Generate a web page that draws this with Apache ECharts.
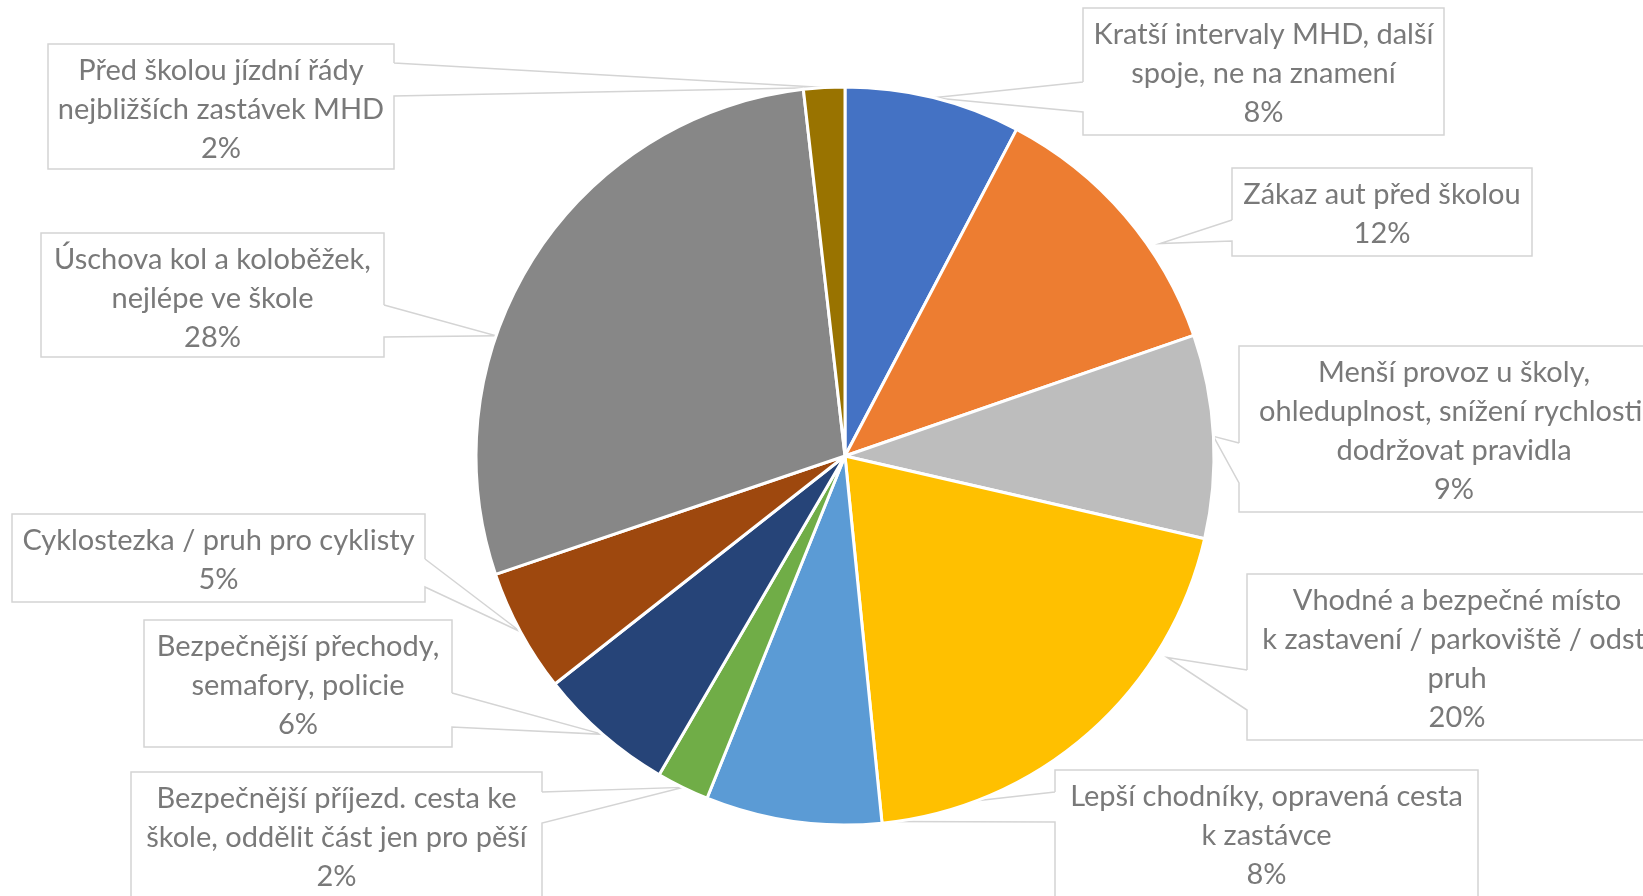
<!DOCTYPE html>
<html>
<head>
<meta charset="utf-8">
<script src="https://cdn.jsdelivr.net/npm/echarts@6/dist/echarts.min.js"></script>
<style>
  html, body { margin: 0; padding: 0; background: #fff; }
  #chart { width: 1643px; height: 896px; }
</style>
</head>
<body>
<div id="chart"></div>
<script>
// kategorie - zalomení řádků jako v původním grafu
const categories = [
  'Kratší intervaly MHD, další\nspoje, ne na znamení',
  'Zákaz aut před školou',
  'Menší provoz u školy,\nohleduplnost, snížení rychlosti,\ndodržovat pravidla',
  'Vhodné a bezpečné místo\nk zastavení / parkoviště / odst.\npruh',
  'Lepší chodníky, opravená cesta\nk zastávce',
  'Bezpečnější příjezd. cesta ke\nškole, oddělit část jen pro pěší',
  'Bezpečnější přechody,\nsemafory, policie',
  'Cyklostezka / pruh pro cyklisty',
  'Úschova kol a koloběžek,\nnejlépe ve škole',
  'Před školou jízdní řády\nnejbližších zastávek MHD'
]
// podíly v %
const values = [7.7, 12, 8.9, 19.8, 7.7, 2.3, 6, 5.4, 28.4, 1.8]
const colors = ['#4472C4', '#ED7D31', '#BDBDBD', '#FFC000', '#5B9BD5',
                '#70AD47', '#264478', '#9E480E', '#878787', '#997300']

// rozmístění popisků (bubliny) - jen layout
const PIE_CX = 845, PIE_CY = 456, PIE_R = 369
const callouts = [
  { x: 1083, y: 8,   w: 361, h: 127, side: 'L', p1: 82,  p2: 112 },
  { x: 1232, y: 168, w: 300, h: 88,  side: 'L', p1: 220, p2: 241, tipDeg: 56, tipR: 1.03 },
  { x: 1239, y: 346, w: 430, h: 166, side: 'L', p1: 443, p2: 483 },
  { x: 1247, y: 574, w: 420, h: 166, side: 'L', p1: 670, p2: 710, tipDeg: 122, tipR: 1.03 },
  { x: 1055, y: 770, w: 423, h: 127, side: 'L', p1: 792, p2: 822 },
  { x: 131,  y: 772, w: 411, h: 127, side: 'R', p1: 792, p2: 823 },
  { x: 144,  y: 620, w: 308, h: 127, side: 'R', p1: 693, p2: 727 },
  { x: 12,   y: 514, w: 413, h: 88,  side: 'R', p1: 559, p2: 587 },
  { x: 41,   y: 233, w: 343, h: 124, side: 'R', p1: 305, p2: 337, tipDeg: 289 },
  { x: 48,   y: 44,  w: 346, h: 125, side: 'R', p1: 63,  p2: 96 }
]

const total = values.reduce((a, b) => a + b, 0)
function tipPoint(i) {
  let before = 0
  for (let k = 0; k < i; k++) before += values[k]
  const c = callouts[i]
  const deg = c.tipDeg != null ? c.tipDeg : (before + values[i] / 2) / total * 360
  const rr = PIE_R * (c.tipR || 1)
  const t = (deg - 90) * Math.PI / 180
  return [PIE_CX + rr * Math.cos(t), PIE_CY + rr * Math.sin(t)]
}

const chart = echarts.init(document.getElementById('chart'))
chart.setOption({
  animation: false,
  backgroundColor: '#fff',
  color: colors,
  series: [{
    type: 'pie',
    center: [PIE_CX, PIE_CY],
    radius: PIE_R,
    startAngle: 90,
    clockwise: true,
    avoidLabelOverlap: false,
    percentPrecision: 0,
    itemStyle: { borderColor: '#fff', borderWidth: 3 },
    emphasis: { disabled: true },
    label: {
      show: true,
      position: 'outside',
      formatter: '{b}\n{d}%',
      fontFamily: 'Lato',
      fontSize: 29,
      lineHeight: 39,
      color: '#797979',
      align: 'center'
    },
    labelLine: {
      show: true,
      smooth: false,
      lineStyle: { color: '#D4D4D4', width: 1.5 }
    },
    labelLayout: function (p) {
      const b = callouts[p.dataIndex]
      const x0 = b.x, x1 = b.x + b.w, y0 = b.y, y1 = b.y + b.h
      const tip = tipPoint(p.dataIndex)
      let pts
      if (b.side === 'L') {
        pts = [[x0, b.p1], tip, [x0, b.p2], [x0, y1], [x1, y1], [x1, y0], [x0, y0], [x0, b.p1]]
      } else {
        pts = [[x1, b.p1], tip, [x1, b.p2], [x1, y1], [x0, y1], [x0, y0], [x1, y0], [x1, b.p1]]
      }
      return {
        x: b.x + b.w / 2,
        y: b.y + 7.5,
        align: 'center',
        verticalAlign: 'top',
        labelLinePoints: pts
      }
    },
    data: categories.map((name, i) => ({ name: name, value: values[i] }))
  }]
})
</script>
</body>
</html>
